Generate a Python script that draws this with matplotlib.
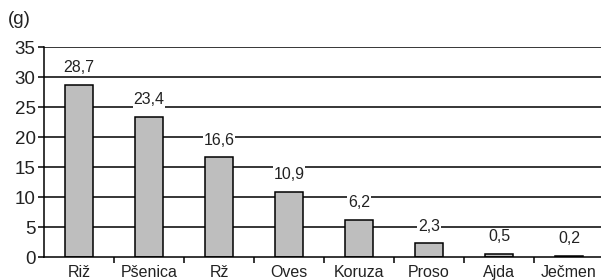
import matplotlib.pyplot as plt

plt.rcParams['font.family'] = ['Liberation Sans', 'DejaVu Sans']

# data
cereals = ['Riž', 'Pšenica', 'Rž', 'Oves', 'Koruza', 'Proso', 'Ajda', 'Ječmen']
grams = [28.7, 23.4, 16.6, 10.9, 6.2, 2.3, 0.5, 0.2]
labels = ['28,7', '23,4', '16,6', '10,9', '6,2', '2,3', '0,5', '0,2']
yticks = [0, 5, 10, 15, 20, 25, 30, 35]

txt = '#222222'

fig = plt.figure(figsize=(6.01, 2.80), dpi=100)
ax = fig.add_axes([44/601, 23/280, 560/601, 210/280])

# horizontal grid lines
for t in yticks[1:]:
    ax.axhline(t, color='black', lw=1.1, zorder=1)

x = range(len(cereals))
ax.bar(x, grams, width=0.4, color='#bebebe', edgecolor='black', lw=1.1, zorder=2)

for i, (v, s) in enumerate(zip(grams, labels)):
    ax.text(i, v + 1.6, s, ha='center', va='bottom', fontsize=11.5, color=txt,
            bbox=dict(facecolor='white', edgecolor='none', pad=0.5), zorder=3)

ax.set_xlim(-0.5, len(cereals) - 0.5)
ax.set_ylim(0, 35)
ax.set_yticks(yticks)
ax.set_yticklabels([str(t) for t in yticks], fontsize=13.5, color=txt)
ax.set_xticks([i + 0.5 for i in range(len(cereals) - 1)])
ax.set_xticklabels([])
ax.set_xticks(list(x), minor=True)
ax.set_xticklabels(cereals, minor=True, fontsize=11.5, color=txt)
ax.tick_params(axis='x', which='minor', length=0, pad=6)
ax.tick_params(axis='x', which='major', length=4, width=1.1, direction='out')
ax.tick_params(axis='y', length=4, width=1.1, pad=2)

for s in ['top', 'right']:
    ax.spines[s].set_visible(False)
ax.spines['left'].set_linewidth(1.1)
ax.spines['bottom'].set_linewidth(1.1)

fig.text(8/601, 1 - 20/280, '(g)', fontsize=13.5, va='center', ha='left', color=txt)

fig.savefig('out.png', dpi=100)
